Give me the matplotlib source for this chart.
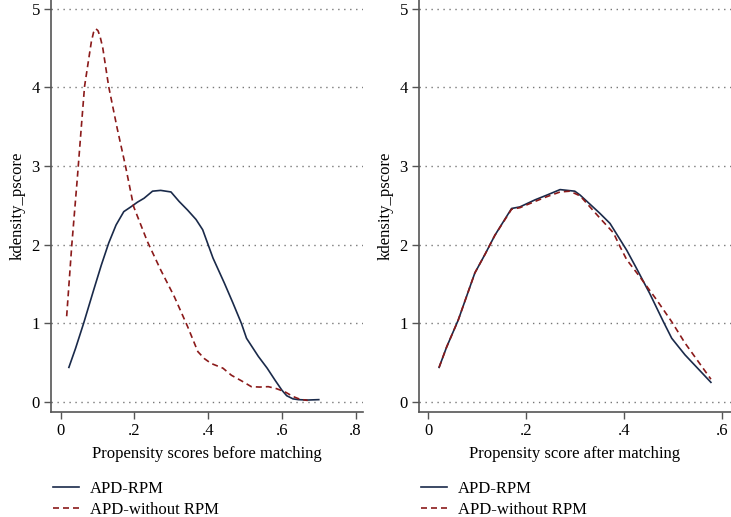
import matplotlib
matplotlib.use("Agg")
import matplotlib.pyplot as plt
from matplotlib.lines import Line2D

# ---- data ----
before_rpm_x = [0.022, 0.04, 0.062, 0.089, 0.11, 0.13, 0.15, 0.171, 0.19, 0.208, 0.226, 0.249, 0.271, 0.299,
                0.321, 0.344, 0.367, 0.385, 0.413, 0.444, 0.467, 0.49, 0.504, 0.536, 0.56, 0.581, 0.6,
                0.613, 0.63, 0.645, 0.67, 0.70]
before_rpm_y = [0.44, 0.68, 1.00, 1.42, 1.74, 2.02, 2.25, 2.42, 2.48, 2.54, 2.59, 2.68, 2.69, 2.67,
                2.55, 2.44, 2.32, 2.19, 1.83, 1.51, 1.26, 1.00, 0.81, 0.58, 0.43, 0.28, 0.15,
                0.08, 0.04, 0.03, 0.025, 0.03]

before_norpm_x = [0.016, 0.03, 0.045, 0.0555, 0.0645, 0.0755, 0.083, 0.089, 0.095, 0.101, 0.107, 0.114,
                  0.13, 0.153, 0.176, 0.198, 0.235, 0.271, 0.308, 0.344, 0.372, 0.39, 0.408, 0.44,
                  0.463, 0.49, 0.517, 0.54, 0.563, 0.585, 0.608, 0.63, 0.649, 0.67]
before_norpm_y = [1.09, 2.00, 2.85, 3.48, 4.01, 4.35, 4.58, 4.70, 4.745, 4.72, 4.64, 4.50,
                  4.01, 3.48, 2.99, 2.48, 2.04, 1.68, 1.34, 0.96, 0.64, 0.55, 0.49, 0.43,
                  0.34, 0.27, 0.195, 0.19, 0.195, 0.17, 0.13, 0.07, 0.035, 0.02]

after_rpm_x = [0.022, 0.0375, 0.061, 0.095, 0.116, 0.136, 0.17, 0.187, 0.218, 0.242, 0.269, 0.299,
               0.31, 0.35, 0.371, 0.405, 0.425, 0.452, 0.48, 0.497, 0.524, 0.577]
after_rpm_y = [0.44, 0.70, 1.04, 1.64, 1.88, 2.12, 2.46, 2.48, 2.57, 2.63, 2.70, 2.68,
               2.63, 2.40, 2.27, 1.93, 1.70, 1.38, 1.02, 0.81, 0.60, 0.25]

after_norpm_x = [0.022, 0.0375, 0.061, 0.095, 0.116, 0.136, 0.17, 0.187, 0.218, 0.242, 0.269, 0.289,
                 0.31, 0.35, 0.378, 0.391, 0.405, 0.432, 0.466, 0.497, 0.524, 0.577]
after_norpm_y = [0.44, 0.70, 1.04, 1.64, 1.88, 2.12, 2.45, 2.47, 2.55, 2.61, 2.67, 2.68,
                 2.62, 2.34, 2.15, 1.98, 1.81, 1.59, 1.30, 1.02, 0.75, 0.29]

series_labels = ["APD-RPM", "APD-without RPM"]
y_ticks = [0, 1, 2, 3, 4, 5]
left_xticks = [0, 0.2, 0.4, 0.6, 0.8]
left_xticklabels = ["0", ".2", ".4", ".6", ".8"]
right_xticks = [0, 0.2, 0.4, 0.6]
right_xticklabels = ["0", ".2", ".4", ".6"]
left_xlabel = "Propensity scores before matching"
right_xlabel = "Propensity score after matching"
ylabel = "kdensity_pscore"

# ---- style ----
plt.rcParams['font.family'] = ['Liberation Serif', 'DejaVu Serif']
NAVY = "#1a2a4a"
RED = "#8b1a1a"
SPINE = "#555555"
FS = 12
LW = 1.2
DASH = (3.6, 2.4)

W, H = 731, 517
fig = plt.figure(figsize=(W / 100, H / 100), dpi=100)

def px_axes(x0, x1, y0, y1):
    return fig.add_axes([x0 / W, 1 - y1 / H, (x1 - x0) / W, (y1 - y0) / H])

ax1 = px_axes(51, 363, 0, 412)
ax2 = px_axes(419, 731, 0, 412)

def style(ax, xlim, xticks, xticklabels, xlabel):
    ax.set_xlim(*xlim)
    ax.set_ylim(-0.127, 5.11)
    ax.set_yticks(y_ticks)
    ax.set_yticklabels([str(t) for t in y_ticks], fontsize=FS)
    ax.set_xticks(xticks)
    ax.set_xticklabels(xticklabels, fontsize=FS)
    for s in ["top", "right"]:
        ax.spines[s].set_visible(False)
    for s in ["left", "bottom"]:
        ax.spines[s].set_color(SPINE)
        ax.spines[s].set_linewidth(1.2)
    ax.tick_params(axis='both', length=5, width=1.0, color=SPINE, pad=3)
    ax.yaxis.grid(True, linestyle=(0, (1, 3.3)), color="#777777", linewidth=1.0)
    ax.set_axisbelow(True)
    ax.set_xlabel(xlabel, fontsize=FS, labelpad=5)
    ax.set_ylabel(ylabel, fontsize=FS, labelpad=4)

ax1.plot(before_rpm_x, before_rpm_y, color=NAVY, lw=LW, label=series_labels[0])
ax1.plot(before_norpm_x, before_norpm_y, color=RED, lw=LW, dashes=DASH, label=series_labels[1])
style(ax1, (-0.0265, 0.82), left_xticks, left_xticklabels, left_xlabel)

ax2.plot(after_rpm_x, after_rpm_y, color=NAVY, lw=LW, label=series_labels[0])
ax2.plot(after_norpm_x, after_norpm_y, color=RED, lw=LW, dashes=DASH, label=series_labels[1])
style(ax2, (-0.019, 0.618), right_xticks, right_xticklabels, right_xlabel)

handles = [Line2D([], [], color=NAVY, lw=LW),
           Line2D([], [], color=RED, lw=LW, dashes=DASH)]
for ax, x0 in ((ax1, 41), (ax2, 409)):
    fig.legend(handles, series_labels, loc="upper left",
               bbox_to_anchor=(x0 / W, 1 - 469 / H), frameon=False, fontsize=FS,
               handlelength=1.6, handletextpad=0.65, labelspacing=0.3, borderpad=0.2)

fig.savefig("out.png", dpi=100)
